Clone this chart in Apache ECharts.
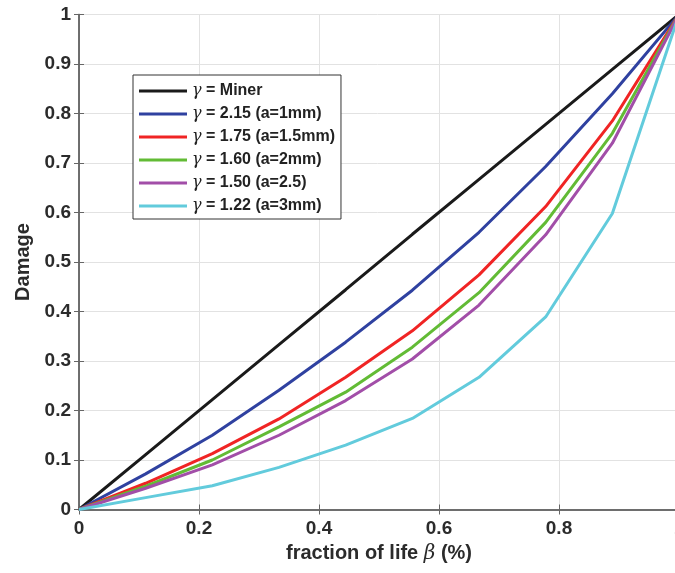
<!DOCTYPE html>
<html>
<head>
<meta charset="utf-8">
<script src="https://cdn.jsdelivr.net/npm/echarts@6/dist/echarts.min.js"></script>
<style>html,body{margin:0;padding:0;background:#fff}#c{width:675px;height:573px}</style>
</head>
<body>
<div id="c"></div>
<script>
var beta = [0, 0.1111, 0.2222, 0.3333, 0.4444, 0.5556, 0.6667, 0.7778, 0.8889, 1];
var miner = [0, 0.111, 0.222, 0.333, 0.444, 0.556, 0.667, 0.778, 0.889, 1];
var g215 = [0, 0.072, 0.150, 0.241, 0.338, 0.443, 0.560, 0.693, 0.840, 1];
var g175 = [0, 0.053, 0.113, 0.183, 0.267, 0.361, 0.474, 0.612, 0.785, 1];
var g160 = [0, 0.047, 0.100, 0.167, 0.237, 0.328, 0.438, 0.580, 0.760, 1];
var g150 = [0, 0.043, 0.090, 0.150, 0.220, 0.304, 0.413, 0.555, 0.740, 1];
var g122 = [0, 0.024, 0.048, 0.085, 0.130, 0.184, 0.267, 0.389, 0.598, 1];
var seriesNames = ['\u03b3 = Miner', '\u03b3 = 2.15 (a=1mm)', '\u03b3 = 1.75 (a=1.5mm)', '\u03b3 = 1.60 (a=2mm)', '\u03b3 = 1.50 (a=2.5)', '\u03b3 = 1.22 (a=3mm)'];
var seriesData = [miner, g215, g175, g160, g150, g122];
var colors = ['#1a1a1a', '#2f41a0', '#f02424', '#62bb35', '#a24ea8', '#62cbdc'];

function pairs(ys) { return ys.map(function (y, i) { return [beta[i], y]; }); }

var chart = echarts.init(document.getElementById('c'), null, { renderer: 'canvas' });
var labelFont = { color: '#2b2b2b', fontFamily: 'Liberation Sans, Arial, sans-serif', fontWeight: 'bold', fontSize: 19 };
chart.setOption({
  animation: false,
  backgroundColor: '#fff',
  grid: { left: 79, top: 14.5, width: 600, height: 495, containLabel: false, outerBoundsMode: 'none' },
  legend: {
    orient: 'vertical', left: 133, top: 75,
    padding: [8, 6, 5, 6],
    backgroundColor: '#fff', borderColor: '#333', borderWidth: 1,
    icon: 'rect', itemWidth: 48, itemHeight: 3, itemGap: 7, itemTextGap: 2,
    data: seriesNames,
    formatter: function (n) { return '{g|\u03b3}{t|' + n.slice(1) + '}'; },
    textStyle: {
      rich: {
        g: { fontFamily: 'DejaVu Serif', fontStyle: 'italic', fontSize: 16, color: '#222', lineHeight: 14 },
        t: { fontFamily: 'Liberation Sans, Arial, sans-serif', fontWeight: 'bold', fontSize: 16, color: '#222', lineHeight: 14 }
      }
    }
  },
  xAxis: [{
    type: 'value', min: 0, max: 1, interval: 0.2,
    name: '{t|fraction of life }{b|\u03b2}{t| (%)}', nameLocation: 'middle', nameGap: 31,
    nameTextStyle: {
      rich: {
        t: { fontFamily: 'Liberation Sans, Arial, sans-serif', fontWeight: 'bold', fontSize: 20, color: '#2b2b2b' },
        b: { fontFamily: 'DejaVu Serif', fontStyle: 'italic', fontSize: 20, color: '#2b2b2b' }
      }
    },
    axisLine: { show: true, lineStyle: { color: '#666', width: 1.5 } },
    axisTick: { show: true, inside: true, length: 5, lineStyle: { color: '#666' } },
    axisLabel: Object.assign({ margin: 10, showMaxLabel: true, hideOverlap: false, formatter: function (v) { return v === 0 || v === 1 ? String(v) : v.toFixed(1); } }, labelFont),
    splitLine: { show: true, lineStyle: { color: '#e2e2e2', width: 1 } }
  }, {
    type: 'value', min: 0, max: 1, interval: 0.2, position: 'top',
    axisLine: { show: true, lineStyle: { color: '#666', width: 1.5 } },
    axisTick: { show: true, inside: true, length: 5, lineStyle: { color: '#666' } },
    axisLabel: { show: false }, splitLine: { show: false }
  }],
  yAxis: [{
    type: 'value', min: 0, max: 1, interval: 0.1,
    name: 'Damage', nameLocation: 'middle', nameGap: 37,
    nameTextStyle: { fontFamily: 'Liberation Sans, Arial, sans-serif', fontWeight: 'bold', fontSize: 20, color: '#2b2b2b' },
    axisLine: { show: true, lineStyle: { color: '#666', width: 1.5 } },
    axisTick: { show: true, inside: true, length: 5, lineStyle: { color: '#666' } },
    axisLabel: Object.assign({ margin: 8, formatter: function (v) { return v === 0 || v === 1 ? String(v) : v.toFixed(1); } }, labelFont),
    splitLine: { show: true, lineStyle: { color: '#e2e2e2', width: 1 } }
  }, {
    type: 'value', min: 0, max: 1, interval: 0.1, position: 'right',
    axisLine: { show: true, lineStyle: { color: '#666', width: 1.5 } },
    axisTick: { show: true, inside: true, length: 5, lineStyle: { color: '#666' } },
    axisLabel: { show: false }, splitLine: { show: false }
  }],
  series: seriesNames.map(function (n, i) {
    return {
      name: n, type: 'line', data: pairs(seriesData[i]), showSymbol: false, symbol: 'none',
      color: colors[i], lineStyle: { color: colors[i], width: 3 }, z: 2 + i
    };
  })
});
</script>
</body>
</html>
